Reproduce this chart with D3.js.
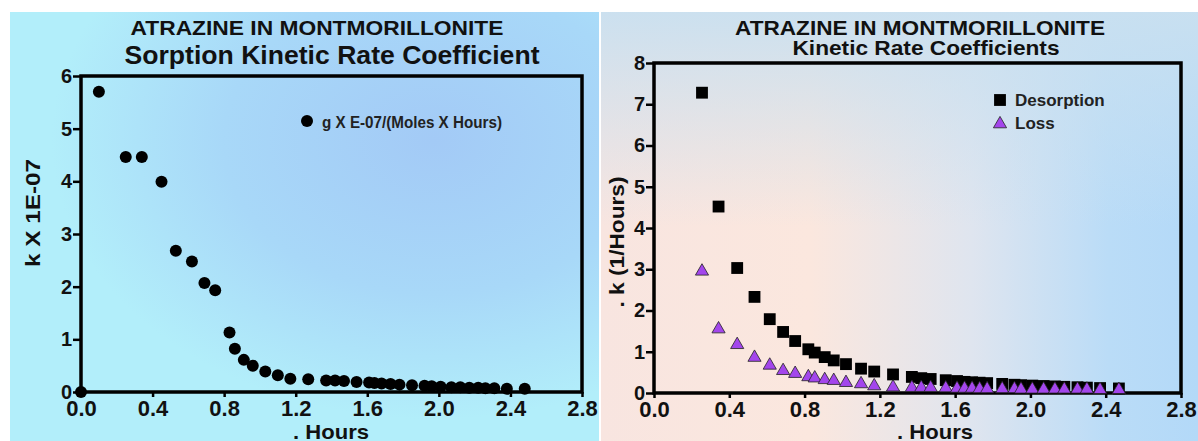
<!DOCTYPE html>
<html lang="en">
<head>
<meta charset="UTF-8">
<title>Atrazine in Montmorillonite</title>
<script src="https://cdn.jsdelivr.net/npm/d3@7/dist/d3.min.js"></script>
<style>
    body { margin: 0; background: #fff; }
    svg { display: block; font-family: Arial, "Liberation Sans", sans-serif; font-weight: bold; }
    .tick line { stroke: #000; stroke-width: 2.5; }
    .tick text { fill: #111; }
</style>
</head>
<body>
<svg id="chart" width="1198" height="441"></svg>
<script>
    // left panel: sorption rate coefficient (k x 1E-07)
    const sorptionHours = [0, 0.10, 0.25, 0.34, 0.45, 0.53, 0.62, 0.69, 0.75, 0.83, 0.86, 0.91, 0.96, 1.03,
        1.10, 1.17, 1.27, 1.37, 1.42, 1.47, 1.54, 1.61, 1.64, 1.68, 1.73, 1.78, 1.85, 1.92, 1.96, 2.01,
        2.07, 2.12, 2.17, 2.22, 2.26, 2.31, 2.38, 2.48];
    const sorptionK = [0, 5.70, 4.46, 4.46, 3.99, 2.68, 2.48, 2.07, 1.93, 1.13, 0.82, 0.61, 0.50, 0.39,
        0.32, 0.25, 0.24, 0.22, 0.22, 0.21, 0.19, 0.18, 0.17, 0.16, 0.15, 0.14, 0.13, 0.12, 0.11, 0.10,
        0.09, 0.09, 0.08, 0.08, 0.07, 0.07, 0.06, 0.06];

    // right panel: desorption and loss rate coefficients (1/hours)
    const kineticHours = [0.255, 0.343, 0.442, 0.534, 0.615, 0.686, 0.75, 0.82, 0.854, 0.907, 0.955, 1.02,
        1.10, 1.17, 1.27, 1.37, 1.42, 1.47, 1.55, 1.61, 1.65, 1.69, 1.73, 1.77, 1.85, 1.915, 1.95, 2.01,
        2.07, 2.13, 2.18, 2.25, 2.30, 2.37, 2.47];
    const desorptionK = [7.28, 4.52, 3.03, 2.33, 1.79, 1.48, 1.26, 1.06, 0.98, 0.87, 0.79, 0.70,
        0.59, 0.52, 0.45, 0.39, 0.36, 0.34, 0.31, 0.29, 0.27, 0.26, 0.25, 0.24, 0.22, 0.20, 0.19, 0.18,
        0.17, 0.16, 0.15, 0.14, 0.13, 0.12, 0.11];
    const lossK = [2.95, 1.55, 1.17, 0.86, 0.67, 0.54, 0.47, 0.39, 0.36, 0.32, 0.30, 0.25,
        0.22, 0.17, 0.14, 0.13, 0.13, 0.13, 0.12, 0.11, 0.11, 0.11, 0.10, 0.10, 0.10, 0.10, 0.09, 0.09,
        0.09, 0.09, 0.09, 0.09, 0.09, 0.08, 0.08];

    const xTicks = [0, 0.4, 0.8, 1.2, 1.6, 2.0, 2.4, 2.8];
    const sorptionTicks = [0, 1, 2, 3, 4, 5, 6];
    const kineticTicks = [0, 1, 2, 3, 4, 5, 6, 7, 8];

    const svg = d3.select("#chart");
    const defs = svg.append("defs");

    // panel backgrounds
    const gLeft = defs.append("radialGradient").attr("id", "bgLeft")
        .attr("cx", "0.72").attr("cy", "0.3").attr("r", "0.65");
    gLeft.append("stop").attr("offset", "0%").attr("stop-color", "#a3caf6");
    gLeft.append("stop").attr("offset", "55%").attr("stop-color", "#a8d8f8");
    gLeft.append("stop").attr("offset", "100%").attr("stop-color", "#b2eefa");

    const gRight = defs.append("linearGradient").attr("id", "bgRight");
    [["0%", "#f8e5e0"], ["35%", "#fbe7de"], ["62%", "#dfe5ef"], ["85%", "#badcf7"], ["100%", "#b3d9f8"]]
        .forEach(s => gRight.append("stop").attr("offset", s[0]).attr("stop-color", s[1]));
    const gTop = defs.append("linearGradient").attr("id", "bgTop")
        .attr("x1", 0).attr("y1", 0).attr("x2", 0).attr("y2", 1);
    gTop.append("stop").attr("offset", "0%").attr("stop-color", "#c9e0f0").attr("stop-opacity", 0.95);
    gTop.append("stop").attr("offset", "50%").attr("stop-color", "#c9e0f0").attr("stop-opacity", 0);

    svg.append("rect").attr("x", 10).attr("y", 12).attr("width", 589).attr("height", 429).attr("fill", "url(#bgLeft)");
    svg.append("rect").attr("x", 601).attr("y", 12).attr("width", 597).attr("height", 429).attr("fill", "url(#bgRight)");
    svg.append("rect").attr("x", 601).attr("y", 12).attr("width", 597).attr("height", 429).attr("fill", "url(#bgTop)");

    function text(x, y, str, size, len, rotate) {
        const t = svg.append("text")
            .attr("text-anchor", "middle")
            .attr("font-size", size)
            .attr("fill", "#111")
            .text(str);
        if (len) t.attr("textLength", len).attr("lengthAdjust", "spacingAndGlyphs");
        if (rotate) t.attr("transform", `translate(${x},${y}) rotate(-90)`);
        else t.attr("x", x).attr("y", y);
        return t;
    }

    function drawFrame(x, y, yTicks) {
        const g = svg.append("g");
        g.append("g")
            .attr("transform", `translate(0,${y.range()[0]})`)
            .call(d3.axisBottom(x).tickValues(xTicks).tickFormat(d3.format(".1f")).tickSize(5).tickPadding(3).tickSizeOuter(0))
            .call(a => a.select(".domain").remove())
            .selectAll("text").attr("font-size", 22);
        g.append("g")
            .attr("transform", `translate(${x.range()[0]},0)`)
            .call(d3.axisLeft(y).tickValues(yTicks).tickFormat(d3.format("d")).tickSize(8).tickPadding(1).tickSizeOuter(0))
            .call(a => a.select(".domain").remove())
            .selectAll("text").attr("font-size", 20);
        g.selectAll(".tick text").attr("font-family", null).attr("fill", "#111");
        g.append("rect")
            .attr("x", x.range()[0]).attr("y", y.range()[1])
            .attr("width", x.range()[1] - x.range()[0])
            .attr("height", y.range()[0] - y.range()[1])
            .attr("fill", "none").attr("stroke", "#000").attr("stroke-width", 3.5);
    }

    // ---------- left chart ----------
    const x1 = d3.scaleLinear().domain([0, 2.8]).range([81, 582]);
    const y1 = d3.scaleLinear().domain([0, 6]).range([392, 76]);
    drawFrame(x1, y1, sorptionTicks);

    svg.append("g").selectAll("circle")
        .data(sorptionHours.map((h, i) => [h, sorptionK[i]]))
        .join("circle")
        .attr("cx", d => x1(d[0])).attr("cy", d => y1(d[1]))
        .attr("r", 6).attr("fill", "#000");

    svg.append("circle").attr("cx", 307).attr("cy", 121).attr("r", 6).attr("fill", "#000");
    svg.append("text").attr("x", 322).attr("y", 128).attr("font-size", 16).attr("fill", "#222")
        .attr("textLength", 180).attr("lengthAdjust", "spacingAndGlyphs")
        .text("g X E-07/(Moles X Hours)");

    text(317, 35, "ATRAZINE IN MONTMORILLONITE", 21, 373);
    text(332, 64, "Sorption Kinetic Rate Coefficient", 25, 415);
    text(40, 213, "k  X 1E-07", 21, 108, true);
    text(331, 439, ". Hours", 21, 76);

    // ---------- right chart ----------
    const x2 = d3.scaleLinear().domain([0, 2.8]).range([654, 1181]);
    const y2 = d3.scaleLinear().domain([0, 8]).range([393, 63]);
    drawFrame(x2, y2, kineticTicks);

    const square = d3.symbol(d3.symbolSquare, 140);
    const triangle = d3.symbol(d3.symbolTriangle, 75);

    svg.append("g").selectAll("path")
        .data(kineticHours.map((h, i) => [h, desorptionK[i]]))
        .join("path")
        .attr("d", square)
        .attr("transform", d => `translate(${x2(d[0])},${y2(d[1])})`)
        .attr("fill", "#000");

    svg.append("g").selectAll("path")
        .data(kineticHours.map((h, i) => [h, lossK[i]]))
        .join("path")
        .attr("d", triangle)
        .attr("transform", d => `translate(${x2(d[0])},${y2(d[1])})`)
        .attr("fill", "#a346ec").attr("stroke", "#222").attr("stroke-width", 0.8);

    // legend
    svg.append("path").attr("d", square).attr("transform", "translate(1000,100)").attr("fill", "#000");
    svg.append("path").attr("d", triangle).attr("transform", "translate(1000,124)")
        .attr("fill", "#a346ec").attr("stroke", "#222").attr("stroke-width", 0.8);
    svg.append("text").attr("x", 1015).attr("y", 106).attr("font-size", 17).attr("fill", "#222").text("Desorption");
    svg.append("text").attr("x", 1015).attr("y", 129).attr("font-size", 17).attr("fill", "#222").text("Loss");

    text(920, 35, "ATRAZINE IN MONTMORILLONITE", 21, 370);
    text(926, 55, "Kinetic Rate Coefficients", 21, 267);
    text(624, 242, ". k (1/Hours)", 21, 131, true);
    text(935, 439, ". Hours", 21, 76);
</script>
</body>
</html>
